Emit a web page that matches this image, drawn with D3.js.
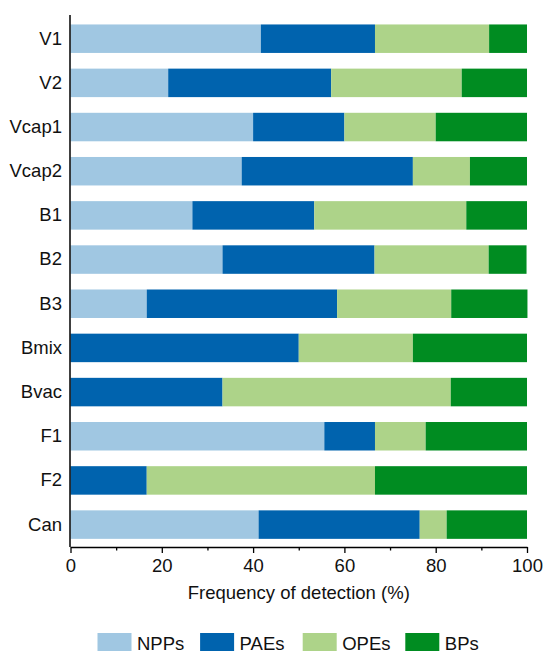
<!DOCTYPE html>
<html>
<head>
<meta charset="utf-8">
<script src="https://cdn.jsdelivr.net/npm/d3@7"></script>
<style>
  html, body { margin: 0; padding: 0; background: #fff; }
  svg { display: block; font-family: "Liberation Sans", Arial, sans-serif; }
</style>
</head>
<body>
<svg id="chart" width="544" height="653"></svg>
<script>
// Sample groups, top to bottom
const categories = ["V1", "V2", "Vcap1", "Vcap2", "B1", "B2", "B3", "Bmix", "Bvac", "F1", "F2", "Can"];
// Compound classes in stacking order
const seriesNames = ["NPPs", "PAEs", "OPEs", "BPs"];
// Frequency of detection (%) per class, one entry per group
const npps = [41.7, 21.4, 40.0, 37.5, 26.7, 33.3, 16.7, 0, 0, 55.6, 0, 41.2];
const paes = [25.0, 35.7, 20.0, 37.5, 26.7, 33.3, 41.7, 50.0, 33.3, 11.1, 16.7, 35.3];
const opes = [25.0, 28.6, 20.0, 12.5, 33.3, 25.0, 25.0, 25.0, 50.0, 11.1, 50.0, 5.9];
const bps  = [8.3, 14.3, 20.0, 12.5, 13.3, 8.3, 16.7, 25.0, 16.7, 22.2, 33.3, 17.6];
const xTicks = [0, 20, 40, 60, 80, 100];
const xMinorTicks = [10, 30, 50, 70, 90];
const colors = ["#a0c7e2", "#0063ae", "#add389", "#008c21"];

const rows = categories.map((c, i) => ({
  cat: c, NPPs: npps[i], PAEs: paes[i], OPEs: opes[i], BPs: bps[i]
}));

const svg = d3.select("#chart");
const x = d3.scaleLinear().domain([0, 100]).range([70.5, 527]);
const y = d3.scaleBand().domain(categories).range([16.5, 546.8])
  .paddingInner(0.355).paddingOuter(0.18);
const color = d3.scaleOrdinal().domain(seriesNames).range(colors);

const stacked = d3.stack().keys(seriesNames)(rows);

// Stacked bars
svg.append("g")
  .selectAll("g")
  .data(stacked)
  .join("g")
  .attr("fill", d => color(d.key))
  .selectAll("rect")
  .data(d => d)
  .join("rect")
  .attr("x", d => x(d[0]))
  .attr("y", d => y(d.data.cat))
  .attr("width", d => Math.max(0, x(d[1]) - x(d[0])))
  .attr("height", y.bandwidth());

const axisY = 547;

// Minor x ticks
svg.append("g")
  .attr("transform", `translate(0,${axisY})`)
  .call(d3.axisBottom(x).tickValues(xMinorTicks).tickSize(3.5).tickFormat(""))
  .call(g => g.select(".domain").remove())
  .call(g => g.selectAll("line").attr("stroke", "#000").attr("stroke-width", 1.3));

// Major x axis
svg.append("g")
  .attr("transform", `translate(0,${axisY})`)
  .call(d3.axisBottom(x).tickValues(xTicks).tickSize(6).tickSizeOuter(0).tickPadding(6))
  .call(g => g.select(".domain").attr("stroke", "#000").attr("stroke-width", 1.5))
  .call(g => g.selectAll(".tick line").attr("stroke", "#000").attr("stroke-width", 1.3))
  .call(g => g.selectAll("text")
    .attr("fill", "#111")
    .style("font-size", "18.5px")
    .style("font-family", "'Liberation Sans', Arial, sans-serif"));

// Y axis (labels only, no ticks)
svg.append("g")
  .attr("transform", `translate(${x(0) - 0.5},0)`)
  .call(d3.axisLeft(y).tickSize(0).tickPadding(8))
  .call(g => g.select(".domain").remove())
  .call(g => g.selectAll("text")
    .attr("fill", "#111")
    .style("font-size", "18.5px")
    .style("font-family", "'Liberation Sans', Arial, sans-serif"));

// Y axis line
svg.append("line")
  .attr("x1", x(0) - 0.5).attr("x2", x(0) - 0.5)
  .attr("y1", 15).attr("y2", axisY)
  .attr("stroke", "#000").attr("stroke-width", 1.5);

// X axis title
svg.append("text")
  .attr("x", (x(0) + x(100)) / 2 + 0)
  .attr("y", 599)
  .attr("text-anchor", "middle")
  .attr("fill", "#111")
  .style("font-size", "18.5px")
  .text("Frequency of detection (%)");

// Legend
const legend = svg.append("g").attr("transform", "translate(97.5,633)");
const item = legend.selectAll("g")
  .data(seriesNames)
  .join("g")
  .attr("transform", (d, i) => `translate(${i * 102.6},0)`);
item.append("rect")
  .attr("width", 34).attr("height", 18)
  .attr("fill", d => color(d));
item.append("text")
  .attr("x", 39.5).attr("y", 16.5)
  .attr("fill", "#111")
  .style("font-size", "18.5px")
  .text(d => d);
</script>
</body>
</html>
